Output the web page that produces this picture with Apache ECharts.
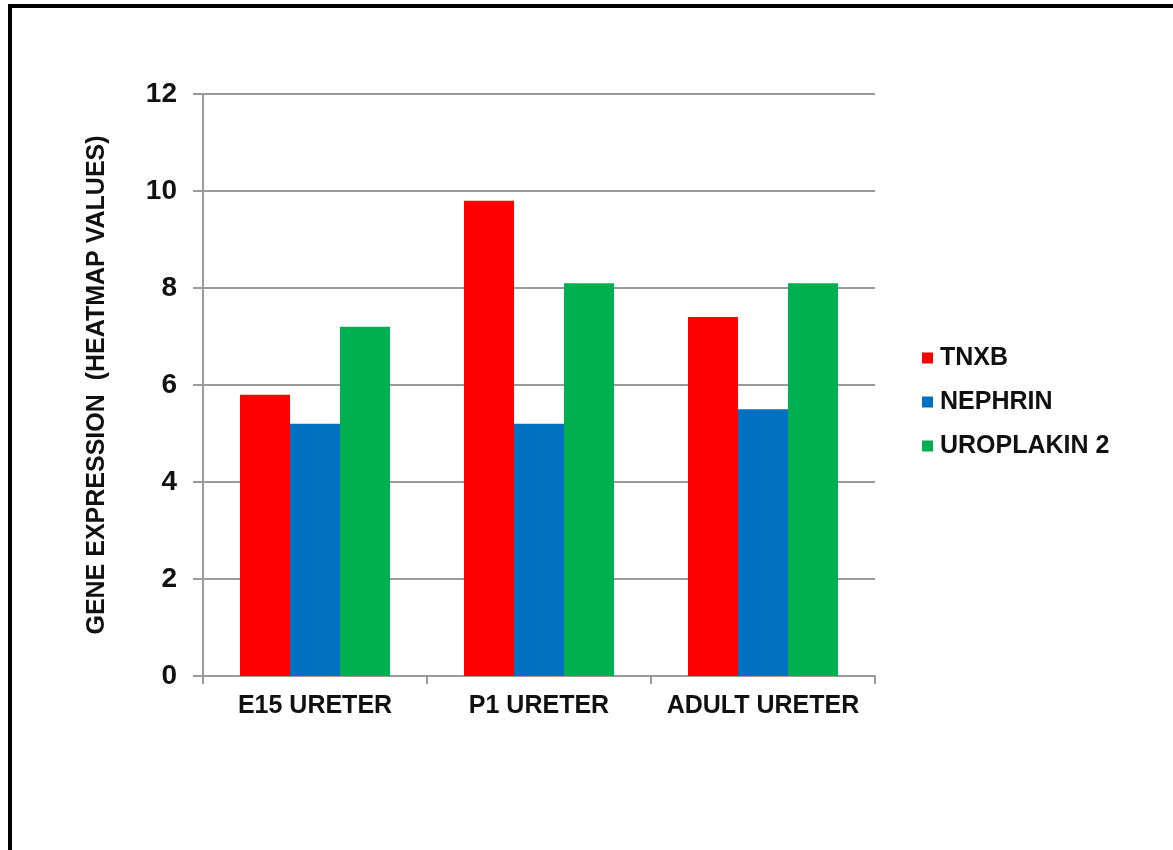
<!DOCTYPE html>
<html>
<head>
<meta charset="utf-8">
<title>Gene expression in ureter</title>
<script src="https://cdn.jsdelivr.net/npm/echarts@6/dist/echarts.min.js"></script>
<style>
  html, body { margin: 0; padding: 0; background: #fff; }
  #chart { width: 1173px; height: 850px; }
</style>
</head>
<body>
<div id="chart"></div>
<script>
// Categories and series values (heatmap expression values)
const categories = ['E15 URETER', 'P1 URETER', 'ADULT URETER'];
const tnxb = [5.8, 9.8, 7.4];
const nephrin = [5.2, 5.2, 5.5];
const uroplakin2 = [7.2, 8.1, 8.1];
const seriesNames = ['TNXB', 'NEPHRIN', 'UROPLAKIN 2'];
const seriesColors = ['#ff0000', '#0070c0', '#00b050'];
const yTicks = { min: 0, max: 12, interval: 2 };

const FONT = '"Liberation Sans", Arial, sans-serif';
const TEXT = '#111111';
const GRID_GRAY = '#9a9a9a';

const chart = echarts.init(document.getElementById('chart'), null, { renderer: 'canvas' });

const valueSets = [tnxb, nephrin, uroplakin2];

chart.setOption({
  backgroundColor: '#ffffff',
  animation: false,
  graphic: [{
    // frame around the figure (right and bottom edges fall outside the canvas)
    type: 'rect',
    shape: { x: 10, y: 6, width: 2000, height: 2000 },
    style: { fill: 'none', stroke: '#000', lineWidth: 4 },
    silent: true,
    z: 100
  }],
  grid: { left: 203, top: 94, width: 672, height: 582, containLabel: false },
  legend: {
    orient: 'vertical',
    left: 917,
    top: 340,
    itemWidth: 11,
    itemHeight: 11,
    itemGap: 18,
    icon: 'rect',
    data: seriesNames,
    textStyle: {
      fontFamily: FONT, fontSize: 25, fontWeight: 'bold', color: TEXT,
      lineHeight: 26, padding: [0, 0, 0, 2]
    }
  },
  xAxis: {
    type: 'category',
    data: categories,
    axisLine: { show: true, lineStyle: { color: GRID_GRAY, width: 2 } },
    axisTick: { show: true, length: 8, interval: 0, alignWithLabel: false, lineStyle: { color: GRID_GRAY, width: 2 } },
    axisLabel: {
      interval: 0, margin: 18,
      fontFamily: FONT, fontSize: 25, fontWeight: 'bold', color: TEXT
    },
    splitLine: { show: false }
  },
  yAxis: {
    type: 'value',
    min: yTicks.min, max: yTicks.max, interval: yTicks.interval,
    name: 'GENE EXPRESSION  (HEATMAP VALUES)',
    nameLocation: 'middle',
    nameGap: 93,
    nameTextStyle: { fontFamily: FONT, fontSize: 25, fontWeight: 'bold', color: TEXT },
    axisLine: { show: true, lineStyle: { color: GRID_GRAY, width: 2 } },
    axisTick: { show: true, length: 10, lineStyle: { color: GRID_GRAY, width: 2 } },
    axisLabel: {
      margin: 26,
      fontFamily: FONT, fontSize: 28, fontWeight: 'bold', color: TEXT
    },
    splitLine: { show: true, lineStyle: { color: GRID_GRAY, width: 2 } }
  },
  series: seriesNames.map((name, i) => ({
    name,
    type: 'bar',
    data: valueSets[i],
    barWidth: 50,
    barGap: '0%',
    itemStyle: { color: seriesColors[i] }
  }))
});
</script>
</body>
</html>
